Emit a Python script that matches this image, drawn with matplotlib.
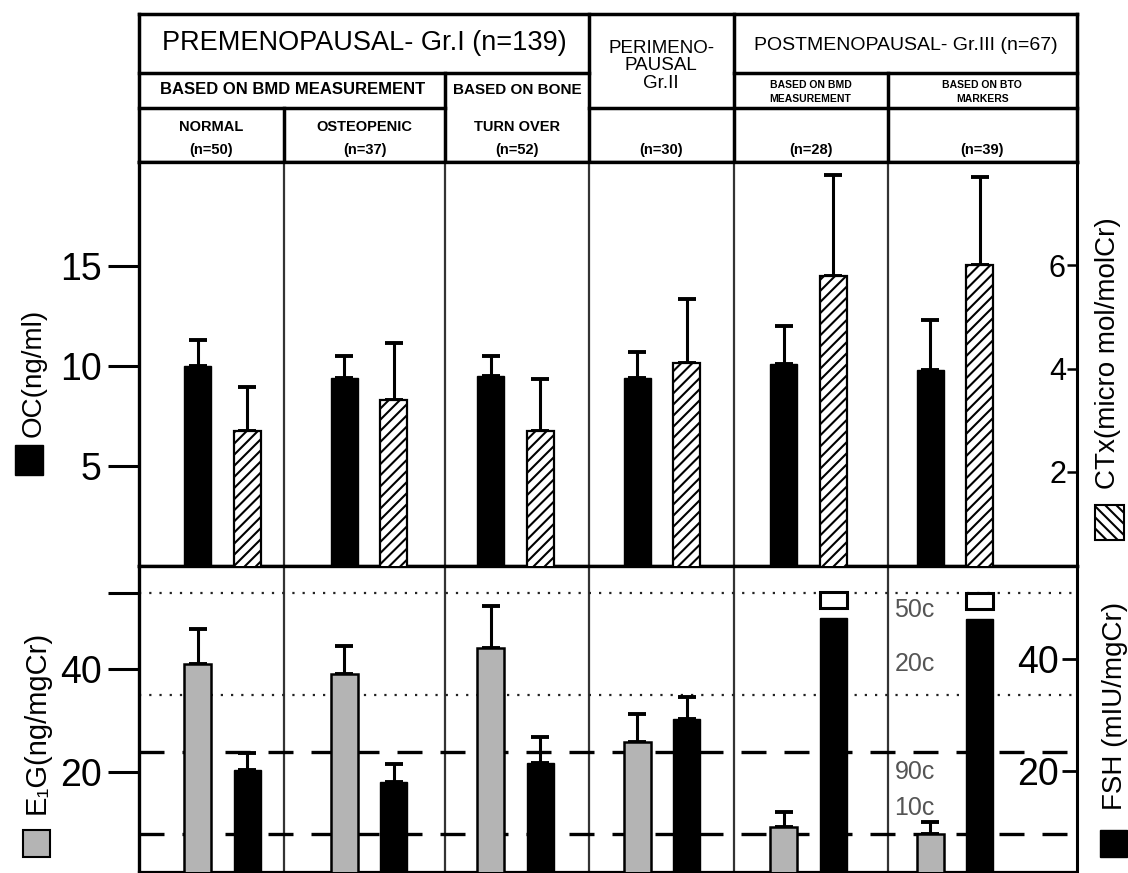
import matplotlib
matplotlib.use("Agg")
import matplotlib.pyplot as plt
from matplotlib.patches import Rectangle
import numpy as np

plt.rcParams['font.family'] = ['Liberation Sans', 'DejaVu Sans']
plt.rcParams['hatch.linewidth'] = 1.5

# ---- data -----------------------------------------------------------------
groups = ["NORMAL", "OSTEOPENIC", "TURN OVER", "PERIMENOPAUSAL",
          "POST BMD", "POST BTO"]
oc_mean = [10.0, 9.4, 9.5, 9.4, 10.1, 9.8]
oc_err = [1.3, 1.1, 1.0, 1.3, 1.9, 2.5]
ctx_mean = [2.8, 3.4, 2.8, 4.1, 5.8, 6.0]
ctx_err = [0.85, 1.1, 1.0, 1.25, 1.95, 1.7]
e1g_mean = [41.0, 39.0, 44.1, 25.8, 9.2, 7.8]
e1g_err = [6.9, 5.5, 8.2, 5.4, 2.9, 2.4]
fsh_mean = [20.2, 18.0, 21.4, 29.3, 47.3, 47.1]
fsh_err = [3.0, 3.2, 4.7, 3.9, 0.0, 0.0]
fsh_offscale = [False, False, False, False, True, True]

# percentile reference levels (E1G scale)
ref_levels = [54.9, 35.0, 23.8, 7.8]
ref_labels = ["50c", "20c", "90c", "10c"]
ref_kinds = ["dotted", "dotted", "dashed", "dashed"]

oc_ticks = [5, 10, 15]
ctx_ticks = [2, 4, 6]
e1g_ticks = [20, 40]
e1g_extra_tick = [54.9]
fsh_ticks = [20, 40]

# ---- layout helpers ---------------------------------------------------------
W, H = 1128, 873
fig = plt.figure(figsize=(W / 100, H / 100), dpi=100)


def box(x0, y0, x1, y1):
    return [x0 / W, 1 - y1 / H, (x1 - x0) / W, (y1 - y0) / H]


LEFT, RIGHT = 139, 1077
ax_hdr = fig.add_axes(box(LEFT, 14, RIGHT, 162))
ax_up = fig.add_axes(box(LEFT, 162, RIGHT, 566))
ax_lo = fig.add_axes(box(LEFT, 566, RIGHT, 872))

XL, XR = -0.57, 5.833
seps = [0.42, 1.52, 2.5, 3.49, 4.54]
x = np.arange(len(groups))
off, bw = 0.168, 0.185
GRAY = '#b4b4b4'

for a in (ax_hdr, ax_up, ax_lo):
    a.set_xlim(XL, XR)
    a.set_xticks([])

# ---- upper panel: OC (left) and CTx (right) ---------------------------------
ax_up.set_ylim(0, 20.2)
for s in seps:
    ax_up.axvline(s, color='#333333', lw=1.6, zorder=1)
ax_up.bar(x - off, oc_mean, bw, color='black', edgecolor='black', zorder=3)
ax_up.errorbar(x - off, oc_mean, yerr=[np.zeros(len(x)), oc_err], fmt='none',
               ecolor='black', elinewidth=2.2, capsize=6.5, capthick=2.8,
               zorder=2)
ax_up.set_yticks(oc_ticks)
ax_up.tick_params(axis='y', direction='out', length=22, width=2.2,
                  labelsize=27, pad=5)

ax_up_r = ax_up.twinx()
ax_up_r.set_xlim(XL, XR)
ax_up_r.set_ylim(0.18, 8.0)
ax_up_r.bar(x + off, ctx_mean, bw, color='white', edgecolor='black',
            hatch='///', lw=1.6, zorder=3)
ax_up_r.errorbar(x + off, ctx_mean, yerr=[np.zeros(len(x)), ctx_err],
                 fmt='none', ecolor='black', elinewidth=2.2, capsize=6.5,
                 capthick=2.8, zorder=2)
ax_up_r.set_yticks(ctx_ticks)
ax_up_r.tick_params(axis='y', direction='in', length=7, width=1.8,
                    labelsize=22, pad=-8)
for t in ax_up_r.yaxis.get_major_ticks():
    t.label2.set_horizontalalignment('right')

# ---- lower panel: E1G (left) and FSH (right) --------------------------------
ax_lo.set_ylim(0.39, 60.2)
for s in seps:
    ax_lo.axvline(s, color='#333333', lw=1.6, zorder=1)
for lvl, kind in zip(ref_levels, ref_kinds):
    if kind == 'dotted':
        ax_lo.axhline(lvl, color='#222222', lw=1.6, ls=(0, (1, 3.6)), zorder=1)
    else:
        ax_lo.axhline(lvl, color='black', lw=2.4, ls=(0, (7.5, 5.4)), zorder=1)
label_offsets = [-12, 22, -14, 19]
for lvl, lab, dy in zip(ref_levels, ref_labels, label_offsets):
    ax_lo.annotate(lab, xy=(seps[4], lvl), xytext=(5, dy),
                   textcoords='offset points', ha='left', va='center',
                   fontsize=18, color='#555555', zorder=4)

ax_lo.bar(x - off, e1g_mean, bw, color=GRAY, edgecolor='black', lw=1.8,
          zorder=3)
ax_lo.errorbar(x - off, e1g_mean, yerr=[np.zeros(len(x)), e1g_err],
               fmt='none', ecolor='black', elinewidth=2.2, capsize=6.5,
               capthick=2.8, zorder=2)
ax_lo.set_yticks(e1g_ticks)
ax_lo.set_yticks(e1g_extra_tick, minor=True)
ax_lo.tick_params(axis='y', which='both', direction='out', length=22,
                  width=2.2, labelsize=27, pad=5)

ax_lo_r = ax_lo.twinx()
ax_lo_r.set_xlim(XL, XR)
ax_lo_r.set_ylim(1.96, 56.6)
ax_lo_r.bar(x + off, fsh_mean, bw, color='black', edgecolor='black', zorder=3)
shown = [i for i in range(len(x)) if not fsh_offscale[i]]
ax_lo_r.errorbar(x[shown] + off, np.array(fsh_mean)[shown],
                 yerr=[np.zeros(len(shown)), np.array(fsh_err)[shown]],
                 fmt='none', ecolor='black', elinewidth=2.2, capsize=6.5,
                 capthick=2.8, zorder=2)
# open marker above bars that run off the scale
for i in range(len(x)):
    if fsh_offscale[i]:
        ax_lo_r.add_patch(Rectangle((x[i] + off - bw / 2, fsh_mean[i] + 1.8),
                                    bw, 2.9, facecolor='white',
                                    edgecolor='black', lw=2.2, zorder=4))
ax_lo_r.set_yticks(fsh_ticks)
ax_lo_r.tick_params(axis='y', direction='in', length=11, width=2.0,
                    labelsize=27, pad=-13)
for t in ax_lo_r.yaxis.get_major_ticks():
    t.label2.set_horizontalalignment('right')

# ---- spines -----------------------------------------------------------------
for a in (ax_up, ax_lo):
    a.spines['left'].set_linewidth(2.4)
    a.spines['right'].set_visible(False)
    a.spines['top'].set_linewidth(2.4)
    a.spines['bottom'].set_linewidth(2.4)
ax_lo.spines['bottom'].set_linewidth(1.6)
for a in (ax_up_r, ax_lo_r):
    for side in ('left', 'top', 'bottom'):
        a.spines[side].set_visible(False)
    a.spines['right'].set_linewidth(2.2)

# ---- header table -----------------------------------------------------------
ax_hdr.set_ylim(162, 14)
ax_hdr.axis('off')
LW = 2.5


def hline(y, x0, x1):
    ax_hdr.plot([x0, x1], [y, y], color='black', lw=LW, clip_on=False,
                solid_capstyle='projecting')


def vline(xv, y0, y1):
    ax_hdr.plot([xv, xv], [y0, y1], color='black', lw=LW, clip_on=False,
                solid_capstyle='projecting')


hline(14, XL, XR)
hline(73, XL, seps[2])
hline(73, seps[3], XR)
hline(108, XL, seps[1])
hline(108, seps[2], XR)
hline(162, XL, XR)
vline(XL, 14, 162)
vline(XR, 14, 162)
vline(seps[0], 108, 162)
vline(seps[1], 73, 162)
vline(seps[2], 14, 162)
vline(seps[3], 14, 162)
vline(seps[4], 73, 162)


def mid(a, b):
    return (a + b) / 2


def htext(xc, yc, s, size, bold=False, ls=1.0):
    ax_hdr.text(xc, yc, s, ha='center', va='center', fontsize=size,
                fontweight='bold' if bold else 'normal', linespacing=ls)


htext(mid(XL, seps[2]), 43, "PREMENOPAUSAL- Gr.I (n=139)", 19.5)
htext(mid(XL, seps[1]), 90, "BASED ON BMD MEASUREMENT", 12, bold=True)
htext(mid(seps[1], seps[2]), 90, "BASED ON BONE", 11, bold=True)
htext(mid(XL, seps[0]), 127, "NORMAL", 10.5, bold=True)
htext(mid(XL, seps[0]), 150, "(n=50)", 10.5, bold=True)
htext(mid(seps[0], seps[1]), 127, "OSTEOPENIC", 10.5, bold=True)
htext(mid(seps[0], seps[1]), 150, "(n=37)", 10.5, bold=True)
htext(mid(seps[1], seps[2]), 127, "TURN OVER", 10.5, bold=True)
htext(mid(seps[1], seps[2]), 150, "(n=52)", 10.5, bold=True)
htext(mid(seps[2], seps[3]), 66, "PERIMENO-\nPAUSAL\nGr.II", 13.5, ls=1.05)
htext(mid(seps[2], seps[3]), 150, "(n=30)", 10.5, bold=True)
htext(mid(seps[3], XR), 45, "POSTMENOPAUSAL- Gr.III (n=67)", 14)
htext(mid(seps[3], seps[4]), 92, "BASED ON BMD\nMEASUREMENT", 7.5, bold=True,
      ls=1.45)
htext(mid(seps[4], XR), 92, "BASED ON BTO\nMARKERS", 7.5, bold=True, ls=1.45)
htext(mid(seps[3], seps[4]), 150, "(n=28)", 10.5, bold=True)
htext(mid(seps[4], XR), 150, "(n=39)", 10.5, bold=True)

# ---- axis titles with key swatches -------------------------------------------


def ylabel(xc, yc, s, size):
    fig.text(xc / W, 1 - yc / H, s, rotation=90, ha='center', va='center',
             fontsize=size)


def swatch(x0, y0, x1, y1, **kw):
    fig.add_artist(Rectangle((x0 / W, 1 - y1 / H), (x1 - x0) / W,
                             (y1 - y0) / H, transform=fig.transFigure, **kw))


ylabel(34, 373, "OC(ng/ml)", 20)
swatch(15, 445, 43, 475, facecolor='black', edgecolor='black')
ylabel(37, 722, "E\u2081G(ng/mgCr)", 21)
swatch(23, 830, 50, 857, facecolor=GRAY, edgecolor='black', lw=1.5)
ylabel(1108, 353, "CTx(micro mol/molCr)", 20)
swatch(1095, 505, 1124, 540, facecolor='white', edgecolor='black',
       hatch='\\\\\\', lw=1.5)
ylabel(1115, 706, "FSH (mIU/mgCr)", 20)
swatch(1100, 830, 1127, 857, facecolor='black', edgecolor='black')

fig.savefig("out.png", dpi=100)
